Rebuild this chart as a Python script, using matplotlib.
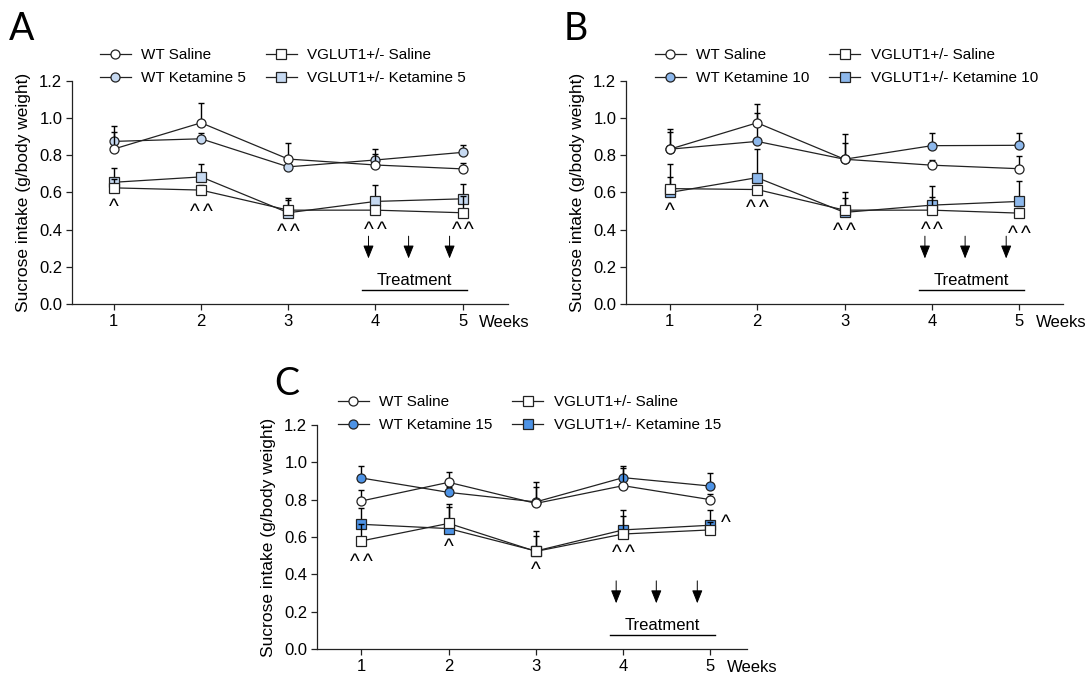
import matplotlib
matplotlib.use("Agg")
import matplotlib.pyplot as plt

plt.rcParams['font.family'] = ['Liberation Sans', 'DejaVu Sans']

weeks = [1, 2, 3, 4, 5]
tick_labels = ["1", "2", "3", "4", "5"]

# ---- Panel A (Ketamine 5) ----
a_wt_sal = [0.834, 0.975, 0.780, 0.748, 0.727]
a_wt_sal_err = [0.090, 0.105, 0.086, 0.060, 0.030]
a_wt_ket = [0.875, 0.889, 0.738, 0.775, 0.816]
a_wt_ket_err = [0.084, 0.030, 0.030, 0.060, 0.038]
a_vg_sal = [0.625, 0.613, 0.505, 0.505, 0.491]
a_vg_sal_err = [0.050, 0.030, 0.068, 0.030, 0.090]
a_vg_ket = [0.655, 0.684, 0.491, 0.552, 0.566]
a_vg_ket_err = [0.077, 0.068, 0.068, 0.089, 0.080]
a_sig_weeks = [1, 2, 3, 4, 5]
a_sig_y = [0.548, 0.52, 0.415, 0.425, 0.425]
a_sig_txt = ["^", "^^", "^^", "^^", "^^"]

# ---- Panel B (Ketamine 10) ----
b_wt_sal = [0.833, 0.975, 0.779, 0.747, 0.728]
b_wt_sal_err = [0.092, 0.100, 0.087, 0.030, 0.066]
b_wt_ket = [0.833, 0.875, 0.779, 0.852, 0.854]
b_wt_ket_err = [0.107, 0.155, 0.137, 0.068, 0.066]
b_vg_sal = [0.621, 0.616, 0.505, 0.505, 0.489]
b_vg_sal_err = [0.060, 0.025, 0.064, 0.072, 0.030]
b_vg_ket = [0.600, 0.680, 0.493, 0.532, 0.552]
b_vg_ket_err = [0.151, 0.153, 0.112, 0.103, 0.112]
b_sig_weeks = [1, 2, 3, 4, 5]
b_sig_y = [0.525, 0.543, 0.418, 0.427, 0.404]
b_sig_txt = ["^", "^^", "^^", "^^", "^^"]

# ---- Panel C (Ketamine 15) ----
c_wt_sal = [0.793, 0.893, 0.780, 0.875, 0.800]
c_wt_sal_err = [0.059, 0.053, 0.086, 0.093, 0.030]
c_wt_ket = [0.916, 0.839, 0.788, 0.918, 0.873]
c_wt_ket_err = [0.064, 0.030, 0.104, 0.061, 0.068]
c_vg_sal = [0.579, 0.673, 0.523, 0.616, 0.638]
c_vg_sal_err = [0.090, 0.090, 0.082, 0.095, 0.040]
c_vg_ket = [0.668, 0.645, 0.525, 0.638, 0.663]
c_vg_ket_err = [0.086, 0.130, 0.109, 0.106, 0.079]
c_sig_weeks = [1, 2, 3, 4, 5.18]
c_sig_y = [0.495, 0.575, 0.45, 0.54, 0.70]
c_sig_txt = ["^^", "^", "^", "^^", "^"]

treat_arrow_x = [3.92, 4.38, 4.85]

FS = 12
LEG_FS = 11
CARET_FS = 15


def panel(fig, rect, letter, letter_pos, dose, color, wt_sal, wt_sal_err, wt_ket, wt_ket_err,
          vg_sal, vg_sal_err, vg_ket, vg_ket_err, sig_w, sig_y, sig_t, xlim, leg_anchor, colsp):
    ax = fig.add_axes(rect)
    ms = 6.5
    lw = 0.9
    series = [
        (wt_ket, wt_ket_err, 'o', color, f"WT Ketamine {dose}", 2),
        (wt_sal, wt_sal_err, 'o', 'white', "WT Saline", 3),
        (vg_ket, vg_ket_err, 's', color, f"VGLUT1+/- Ketamine {dose}", 4),
        (vg_sal, vg_sal_err, 's', 'white', "VGLUT1+/- Saline", 5),
    ]
    handles = {}
    for vals, err, mk, fc, lab, z in series:
        ax.errorbar(weeks, vals, yerr=[[0] * len(err), err], fmt='none', ecolor='black',
                    elinewidth=1.0, capsize=2, capthick=1.0, zorder=z)
        h, = ax.plot(weeks, vals, marker=mk, color='#222222', lw=lw, ms=ms, mfc=fc,
                     mec='#222222', mew=0.9, label=lab, zorder=z + 0.5)
        handles[lab] = h
    order = ["WT Saline", f"WT Ketamine {dose}", "VGLUT1+/- Saline", f"VGLUT1+/- Ketamine {dose}"]
    fig.legend([handles[k] for k in order], order, ncol=2, loc='upper left',
               bbox_to_anchor=leg_anchor, bbox_transform=fig.transFigure, frameon=False,
               fontsize=LEG_FS, handlelength=2.0, handletextpad=0.7, columnspacing=colsp,
               labelspacing=0.58, borderpad=0, borderaxespad=0)

    for w, y, t in zip(sig_w, sig_y, sig_t):
        n = len(t)
        sep = 9.0
        for i in range(n):
            dx = (i - (n - 1) / 2) * sep
            ax.annotate("^", xy=(w, y), xytext=(dx, -0.525 * CARET_FS),
                        textcoords='offset points', ha='center', va='baseline',
                        fontsize=CARET_FS, color='black', annotation_clip=False)

    for xa in treat_arrow_x:
        ax.annotate("", xy=(xa, 0.245), xytext=(xa, 0.365),
                    arrowprops=dict(arrowstyle='-|>,head_length=0.8,head_width=0.32',
                                    color='black', lw=0.7, shrinkA=0, shrinkB=0))
    ax.plot([3.85, 5.05], [0.073, 0.073], color='black', lw=1.0)
    ax.text(4.45, 0.128, "Treatment", ha='center', va='center', fontsize=FS)
    ax.text(5.19, -0.1, "Weeks", ha='left', va='center', fontsize=FS, clip_on=False)

    ax.set_xlim(*xlim)
    ax.set_ylim(0, 1.2)
    ax.set_xticks(weeks)
    ax.set_xticklabels(tick_labels)
    ax.set_yticks([0, 0.2, 0.4, 0.6, 0.8, 1.0, 1.2])
    ax.set_yticklabels(["0.0", "0.2", "0.4", "0.6", "0.8", "1.0", "1.2"])
    ax.tick_params(axis='both', labelsize=FS, length=4, width=0.9, pad=3, colors='#222222',
                   labelcolor='black')
    for s in ['top', 'right']:
        ax.spines[s].set_visible(False)
    for s in ['left', 'bottom']:
        ax.spines[s].set_linewidth(0.9)
        ax.spines[s].set_color('#222222')
    ax.set_ylabel("Sucrose intake (g/body weight)", fontsize=12.5, labelpad=6)
    fig.text(letter_pos[0], letter_pos[1], letter, fontsize=27, family=['Lato', 'DejaVu Sans'],
             ha='left', va='center')
    return ax


fig = plt.figure(figsize=(10.91, 6.75), dpi=100)

panel(fig, [72 / 1091, 1 - 304 / 675, 436 / 1091, 223 / 675], "A", (9 / 1091, 1 - 29 / 675), 5,
      '#c6d9f1', a_wt_sal, a_wt_sal_err, a_wt_ket, a_wt_ket_err, a_vg_sal, a_vg_sal_err,
      a_vg_ket, a_vg_ket_err, a_sig_weeks, a_sig_y, a_sig_txt, (0.52, 5.52),
      (100 / 1091, 1 - 48 / 675), 1.3)

panel(fig, [626 / 1091, 1 - 304 / 675, 437 / 1091, 223 / 675], "B", (564 / 1091, 1 - 29 / 675), 10,
      '#8db8ec', b_wt_sal, b_wt_sal_err, b_wt_ket, b_wt_ket_err, b_vg_sal, b_vg_sal_err,
      b_vg_ket, b_vg_ket_err, b_sig_weeks, b_sig_y, b_sig_txt, (0.5, 5.5),
      (655 / 1091, 1 - 48 / 675), 1.3)

panel(fig, [317 / 1091, 1 - 649 / 675, 430 / 1091, 224 / 675], "C", (274 / 1091, 1 - 384 / 675), 15,
      '#4d93e6', c_wt_sal, c_wt_sal_err, c_wt_ket, c_wt_ket_err, c_vg_sal, c_vg_sal_err,
      c_vg_ket, c_vg_ket_err, c_sig_weeks, c_sig_y, c_sig_txt, (0.49, 5.42),
      (338 / 1091, 1 - 395 / 675), 1.3)

fig.savefig("out.png", dpi=100)
